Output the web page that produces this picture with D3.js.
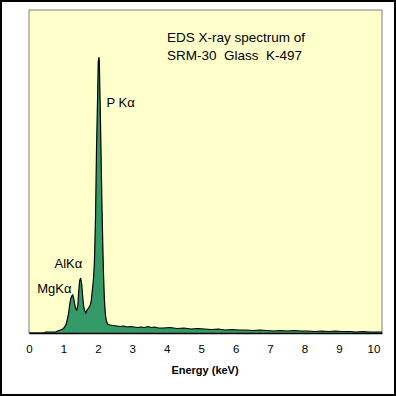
<!doctype html>
<html>
  <head>
    <meta charset="utf-8">
    <title>EDS X-ray spectrum of SRM-30 Glass K-497</title>
    <script src="https://cdnjs.cloudflare.com/ajax/libs/d3/7.8.5/d3.min.js"></script>
    <style>
      body { margin: 0; background: #fff; }
      svg { display: block; font-family: "Liberation Sans", Arial, sans-serif; }
      text { white-space: pre; }
    </style>
  </head>
  <body>
    <div id="chart"></div>
    <script>
      // spectrum: energy (keV) and counts (arbitrary)
      const energy = [0.00, 0.45, 0.48, 0.60, 0.70, 0.77, 0.83, 0.91, 0.98, 1.01, 1.07, 1.11, 1.15, 1.18,
        1.21, 1.24, 1.27, 1.30, 1.33, 1.36, 1.39, 1.42, 1.44, 1.47, 1.50, 1.53, 1.56, 1.59, 1.62, 1.65,
        1.67, 1.73, 1.78, 1.81, 1.84, 1.87, 1.90, 1.93, 1.96, 1.99, 2.01, 2.03, 2.04, 2.07, 2.10, 2.13,
        2.16, 2.19, 2.22, 2.25, 2.28, 2.35, 2.45, 2.55, 2.65, 2.75, 2.85, 2.95, 3.05, 3.15, 3.25, 3.35,
        3.45, 3.55, 3.65, 3.75, 3.90, 4.10, 4.30, 4.50, 4.70, 4.90, 5.10, 5.30, 5.50, 5.70, 5.90, 6.10,
        6.30, 6.50, 6.70, 6.90, 7.10, 7.30, 7.50, 7.70, 7.90, 8.10, 8.30, 8.50, 8.70, 8.90, 9.10, 9.30,
        9.50, 9.70, 9.90, 10.10, 10.25];
      const counts = [0, 0, 4, 4, 4, 4, 8, 12, 16, 20, 32, 52, 80, 112,
        136, 148, 152, 136, 112, 96, 92, 112, 160, 208, 220, 196, 144, 104, 88, 80,
        88, 100, 112, 132, 172, 212, 284, 452, 732, 932, 1084, 1104, 1092, 892, 652, 432,
        252, 132, 72, 48, 36, 32, 30, 28, 26, 28, 24, 26, 24, 22, 24, 22,
        26, 22, 24, 20, 20, 22, 18, 20, 16, 18, 16, 14, 16, 12, 14, 12,
        12, 10, 12, 10, 8, 10, 8, 10, 8, 8, 6, 8, 6, 8, 6, 6,
        4, 6, 4, 4, 4];
      const xTicks = [0, 1, 2, 3, 4, 5, 6, 7, 8, 9, 10];
      const titleLines = ['EDS X-ray spectrum of', 'SRM-30  Glass  K-497'];
      const labelNames = ['P Kα', 'AlKα', 'MgKα'];
      const labelEnergy = [2.25, 0.74, 0.24];
      const labelCounts = [904, 260, 160];

      const W = 396, H = 396;
      const x = d3.scaleLinear().domain([0, 10.25]).range([29, 382]);
      const y = d3.scaleLinear().domain([0, 1292]).range([333, 10]);

      const svg = d3.select('#chart').append('svg')
        .attr('width', W).attr('height', H);

      // outer frame
      svg.append('rect')
        .attr('x', 1).attr('y', 1).attr('width', W - 2).attr('height', H - 2)
        .attr('fill', '#fff').attr('stroke', '#000').attr('stroke-width', 2);

      // plot area
      svg.append('rect')
        .attr('x', x(0)).attr('y', y(1292))
        .attr('width', x(10.25) - x(0)).attr('height', y(0) - y(1292))
        .attr('fill', '#ffffcc').attr('stroke', '#808080').attr('stroke-width', 1);

      const pts = energy.map((e, i) => [e, counts[i]]);

      svg.append('path')
        .datum(pts)
        .attr('fill', '#339966')
        .attr('d', d3.area().x(d => x(d[0])).y0(y(0)).y1(d => y(d[1])));

      svg.append('path')
        .datum(pts)
        .attr('fill', 'none')
        .attr('stroke', '#000')
        .attr('stroke-width', 1.2)
        .attr('d', d3.line().x(d => x(d[0])).y(d => y(d[1])));

      // x axis
      const ax = svg.append('g')
        .attr('transform', `translate(0,${y(0)})`)
        .call(d3.axisBottom(x).tickValues(xTicks).tickFormat(d3.format('d'))
          .tickSize(0).tickSizeOuter(0).tickPadding(12));
      ax.select('.domain').attr('stroke', '#000').attr('stroke-width', 1.5);
      ax.selectAll('text').attr('font-size', 11.5).attr('fill', '#000')
        .attr('font-family', '"Liberation Sans", Arial, sans-serif');

      svg.append('text')
        .attr('x', 205).attr('y', 374)
        .attr('text-anchor', 'middle')
        .attr('font-size', 11).attr('font-weight', 'bold')
        .text('Energy (keV)');

      // title
      svg.selectAll('.title').data(titleLines).join('text')
        .attr('class', 'title')
        .attr('x', 167).attr('y', (d, i) => 42 + i * 18)
        .attr('font-size', 13.5)
        .text(d => d);

      // peak labels
      svg.selectAll('.peak').data(labelNames).join('text')
        .attr('class', 'peak')
        .attr('x', (d, i) => x(labelEnergy[i]))
        .attr('y', (d, i) => y(labelCounts[i]))
        .attr('font-size', 13)
        .text(d => d);
    </script>
  </body>
</html>
